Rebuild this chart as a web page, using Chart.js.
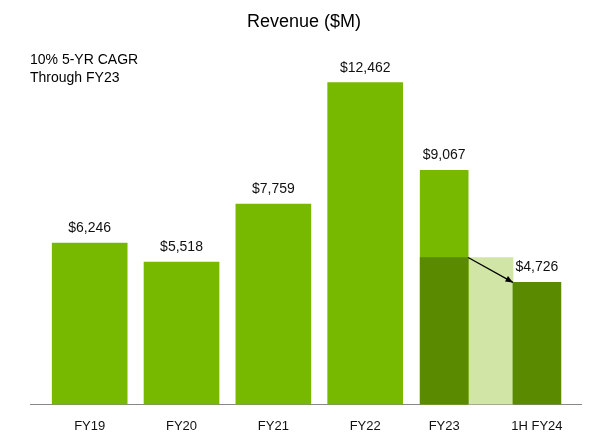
<!DOCTYPE html>
<html>
<head>
<meta charset="utf-8">
<script src="https://cdn.jsdelivr.net/npm/chart.js@4"></script>
<style>
  html, body { margin: 0; padding: 0; background: #fff; }
  #wrap { width: 600px; height: 444px; }
</style>
</head>
<body>
<div id="wrap"><canvas id="chart"></canvas></div>
<script>
// data
const categories = ['FY19', 'FY20', 'FY21', 'FY22', 'FY23', '1H FY24'];
const xPos = [0, 1, 2, 3, 3.86, 4.87];
const revenue = [6246, 5518, 7759, 12462, 9067, 4726];
const firstHalfFY23 = 5690;

const light = '#76b900';
const dark = '#5a8a00';
const pale = '#d1e6a6';

const labelsPlugin = {
  id: 'labels',
  afterDatasetsDraw(chart) {
    const ctx = chart.ctx;
    const x = chart.scales.x, y = chart.scales.y;
    const px = v => x.getPixelForValue(v), py = v => y.getPixelForValue(v);
    ctx.save();
    ctx.fillStyle = '#111';
    ctx.font = '14px "Liberation Sans", Arial, sans-serif';
    ctx.textAlign = 'center';
    ctx.textBaseline = 'bottom';
    revenue.forEach((v, i) => {
      ctx.fillText('$' + v.toLocaleString('en-US'), px(xPos[i]), py(v) - 8);
    });
    // arrow
    const x0 = px(xPos[4]) + 24, y0 = py(firstHalfFY23);
    const x1 = px(xPos[5]) - 24, y1 = py(revenue[5]);
    ctx.strokeStyle = '#000';
    ctx.lineWidth = 1.3;
    ctx.beginPath();
    ctx.moveTo(x0, y0);
    ctx.lineTo(x1, y1);
    ctx.stroke();
    const a = Math.atan2(y1 - y0, x1 - x0);
    ctx.beginPath();
    ctx.moveTo(x1, y1);
    ctx.lineTo(x1 - 8 * Math.cos(a - 0.4), y1 - 8 * Math.sin(a - 0.4));
    ctx.lineTo(x1 - 8 * Math.cos(a + 0.4), y1 - 8 * Math.sin(a + 0.4));
    ctx.closePath();
    ctx.fillStyle = '#000';
    ctx.fill();
    // title + note
    ctx.textAlign = 'center';
    ctx.textBaseline = 'middle';
    ctx.font = '18px "Liberation Sans", Arial, sans-serif';
    ctx.fillText('Revenue ($M)', 304, 22);
    ctx.textAlign = 'left';
    ctx.font = '14px "Liberation Sans", Arial, sans-serif';
    ctx.fillText('10% 5-YR CAGR', 30, 60);
    ctx.fillText('Through FY23', 30, 78);
    ctx.restore();
  }
};

new Chart(document.getElementById('chart'), {
  type: 'bar',
  data: {
    datasets: [
      {
        data: xPos.slice(0, 4).map((x, i) => ({ x: x, y: revenue[i] })),
        backgroundColor: light, barThickness: 75, order: 2
      },
      {
        data: [{ x: xPos[4], y: revenue[4] }],
        backgroundColor: light, barThickness: 48, order: 2
      },
      {
        data: [{ x: (xPos[4] + xPos[5]) / 2, y: firstHalfFY23 }],
        backgroundColor: pale, barThickness: 45, order: 2
      },
      {
        data: [{ x: xPos[4], y: firstHalfFY23 }, { x: xPos[5], y: revenue[5] }],
        backgroundColor: dark, barThickness: 48, order: 0
      }
    ]
  },
  options: {
    responsive: true,
    maintainAspectRatio: false,
    animation: false,
    layout: { padding: { top: 43, left: 30, right: 19, bottom: 4 } },
    plugins: { legend: { display: false }, tooltip: { enabled: false } },
    datasets: { bar: { grouped: false } },
    scales: {
      x: {
        type: 'linear', min: -0.65, max: 5.35, offset: false,
        afterBuildTicks(axis) { axis.ticks = xPos.map(v => ({ value: v })); },
        ticks: {
          autoSkip: false, maxRotation: 0, padding: 6, color: '#111',
          font: { size: 13, family: '"Liberation Sans", Arial, sans-serif' },
          callback(v) { const i = xPos.indexOf(v); return i >= 0 ? categories[i] : ''; }
        },
        grid: { display: false },
        border: { color: '#888', width: 1 }
      },
      y: { display: false, min: 0, max: 14000 }
    }
  },
  plugins: [labelsPlugin]
});
</script>
</body>
</html>
